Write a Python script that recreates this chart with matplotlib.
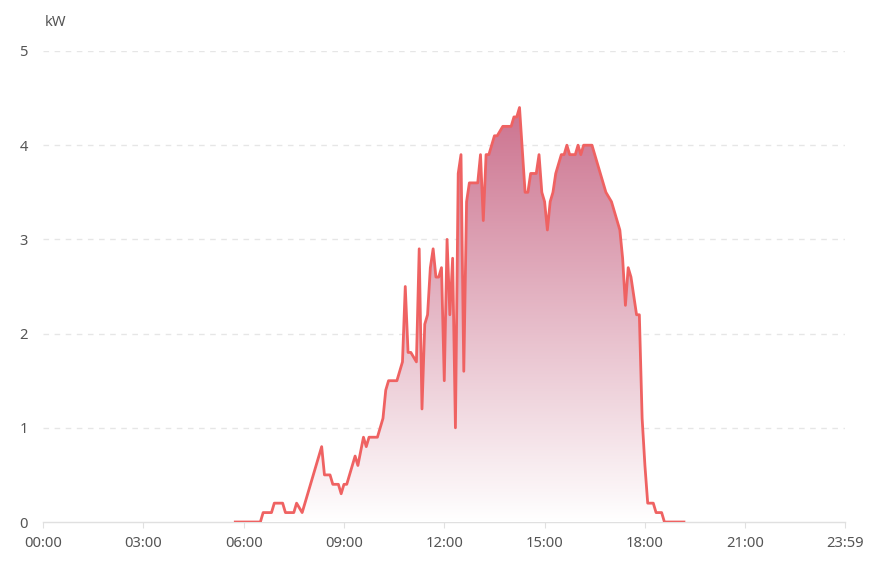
import matplotlib
matplotlib.use('Agg')
import matplotlib.pyplot as plt
import numpy as np
from matplotlib.colors import LinearSegmentedColormap
from matplotlib.patches import PathPatch

times = ['05:45', '06:30', '06:35', '06:50', '06:55', '07:10', '07:15', '07:30', '07:35', '07:45',
         '08:20', '08:25', '08:35', '08:40', '08:50', '08:55', '09:00', '09:05', '09:20', '09:25',
         '09:35', '09:40', '09:45', '10:00', '10:05', '10:10', '10:15', '10:20', '10:35', '10:40',
         '10:45', '10:50', '10:55', '11:00', '11:10', '11:15', '11:20', '11:25', '11:30', '11:35',
         '11:40', '11:45', '11:50', '11:55', '12:00', '12:05', '12:10', '12:15', '12:20', '12:25',
         '12:30', '12:35', '12:40', '12:45', '13:00', '13:05', '13:10', '13:15', '13:20', '13:25',
         '13:30', '13:35', '13:45', '14:00', '14:05', '14:10', '14:15', '14:25', '14:30',
         '14:35', '14:45', '14:50', '14:55', '15:00', '15:05', '15:10', '15:15', '15:20', '15:25',
         '15:30', '15:35', '15:40', '15:45', '15:55', '16:00', '16:05', '16:10', '16:25', '16:30',
         '16:35', '16:40', '16:45', '16:50', '16:55', '17:00', '17:05', '17:10', '17:15', '17:20',
         '17:25', '17:30', '17:35', '17:45', '17:50', '17:55', '18:00', '18:05', '18:15', '18:20',
         '18:30', '18:35', '19:10']
power_kw = [0.0, 0.0, 0.1, 0.1, 0.2, 0.2, 0.1, 0.1, 0.2, 0.1,
            0.8, 0.5, 0.5, 0.4, 0.4, 0.3, 0.4, 0.4, 0.7, 0.6,
            0.9, 0.8, 0.9, 0.9, 1.0, 1.1, 1.4, 1.5, 1.5, 1.6,
            1.7, 2.5, 1.8, 1.8, 1.7, 2.9, 1.2, 2.1, 2.2, 2.7,
            2.9, 2.6, 2.6, 2.7, 1.5, 3.0, 2.2, 2.8, 1.0, 3.7,
            3.9, 1.6, 3.4, 3.6, 3.6, 3.9, 3.2, 3.9, 3.9, 4.0,
            4.1, 4.1, 4.2, 4.2, 4.3, 4.3, 4.4, 3.5, 3.5,
            3.7, 3.7, 3.9, 3.5, 3.4, 3.1, 3.4, 3.5, 3.7, 3.8,
            3.9, 3.9, 4.0, 3.9, 3.9, 4.0, 3.9, 4.0, 4.0, 3.9,
            3.8, 3.7, 3.6, 3.5, 3.45, 3.4, 3.3, 3.2, 3.1, 2.8,
            2.3, 2.7, 2.6, 2.2, 2.2, 1.1, 0.6, 0.2, 0.2, 0.1,
            0.1, 0.0, 0.0]
x_tick_labels = ['00:00', '03:00', '06:00', '09:00', '12:00', '15:00', '18:00', '21:00', '23:59']
y_ticks = [0, 1, 2, 3, 4, 5]


def to_min(t):
    h, m = t.split(':')
    return int(h) * 60 + int(m)


x = np.array([to_min(t) for t in times], dtype=float)
y = np.array(power_kw)
xt = [to_min(t) for t in x_tick_labels]

plt.rcParams['font.family'] = ['Noto Sans', 'DejaVu Sans']

W, H = 880, 571
fig = plt.figure(figsize=(W / 100, H / 100), dpi=100)
ax = fig.add_axes([43 / W, (H - 522) / H, (845 - 43) / W, (522 - 51) / H])
ax.set_xlim(0, 1439)
ax.set_ylim(0, 5)

# gradient fill under the curve
poly = ax.fill_between(x, y, 0, facecolor='none', edgecolor='none')
path = poly.get_paths()[0]
patch = PathPatch(path, transform=ax.transData, facecolor='none', edgecolor='none')
ax.add_patch(patch)
cmap = LinearSegmentedColormap.from_list('g', [(1, 1, 1), (0.80, 0.45, 0.56)])
grad = np.linspace(1, 0, 256).reshape(-1, 1)
im = ax.imshow(grad, extent=[x.min(), x.max(), 0, y.max()], aspect='auto',
               cmap=cmap, origin='upper', zorder=1, interpolation='bilinear')
im.set_clip_path(patch)

ax.plot(x, y, color='#ef6262', lw=2.0, zorder=3, solid_joinstyle='round')

# grid and axes
ax.set_yticks(y_ticks)
ax.set_yticklabels([str(v) for v in y_ticks])
ax.set_xticks(xt)
ax.set_xticklabels(x_tick_labels)
for v in y_ticks[1:]:
    ax.axhline(v, color='#e6e6e6', lw=1, linestyle=(0, (4, 4)), zorder=0)
for s in ['top', 'right', 'left']:
    ax.spines[s].set_visible(False)
ax.spines['bottom'].set_color('#e0e0e0')
ax.spines['bottom'].set_linewidth(1)
ax.spines['bottom'].set_zorder(0)
ax.tick_params(axis='x', length=4, color='#e0e0e0', pad=6, labelsize=10.6, labelcolor='#555555')
ax.tick_params(axis='y', length=0, pad=11, labelsize=10.6, labelcolor='#555555')

fig.text(55 / W, 1 - 22 / H, 'kW', ha='center', va='center', fontsize=10.6, color='#555555')

fig.savefig('out.png', dpi=100)
